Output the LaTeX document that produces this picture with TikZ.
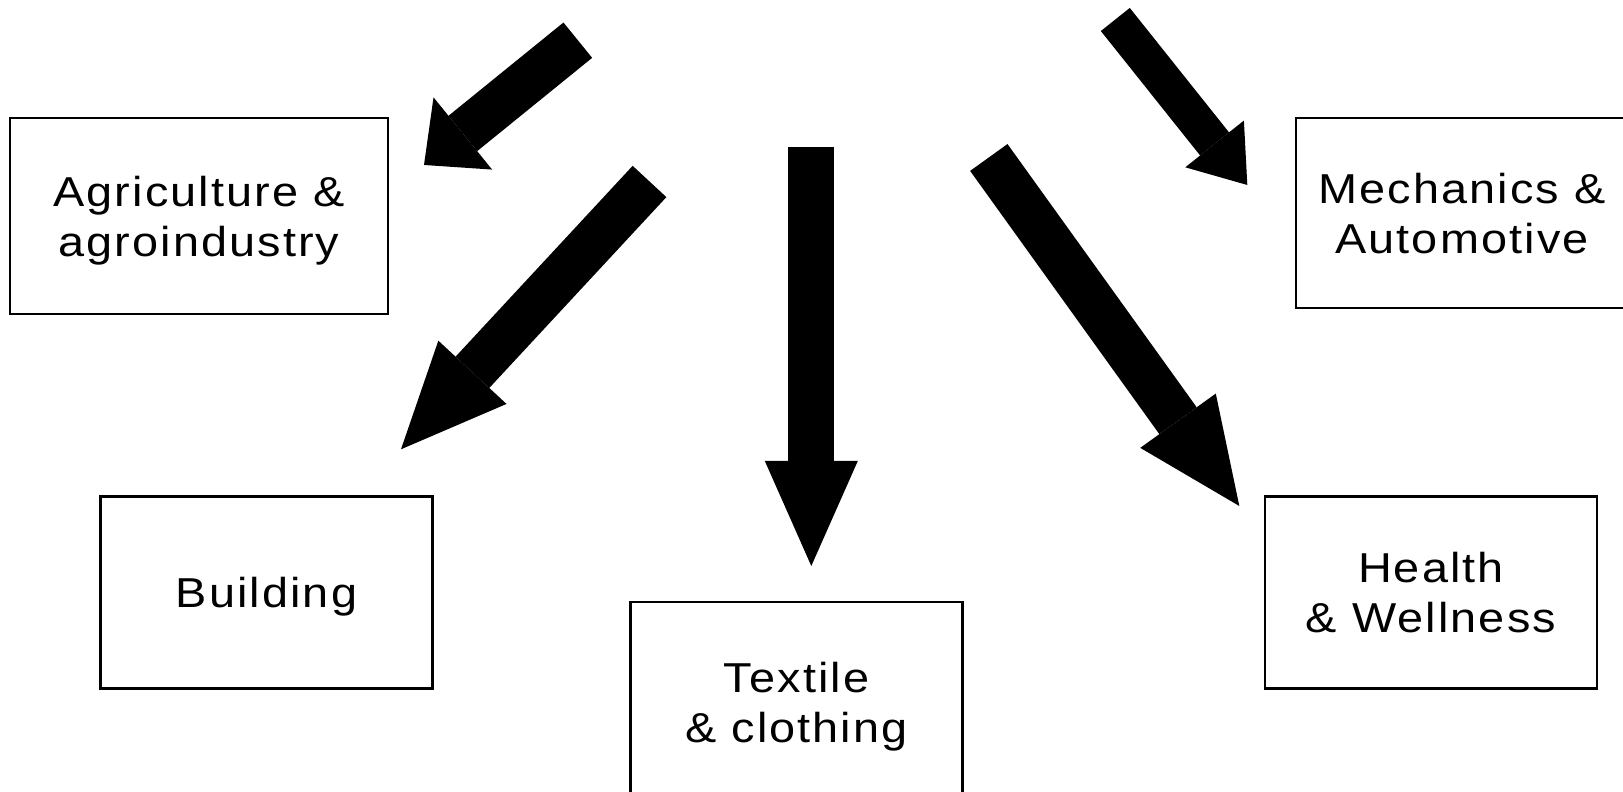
\documentclass[tikz,border=0pt]{standalone}
\usepackage{fontspec}
\newfontfamily\sectorfont[FakeStretch=1.12, LetterSpace=5]{Liberation Sans}
\usetikzlibrary{arrows.meta}

\begin{document}
\begin{tikzpicture}[
  sector/.style={rectangle, draw, line width=0.6pt, minimum width=3.32cm,
                 minimum height=1.92cm, inner sep=0pt, align=center, text depth=0pt,
                 font=\sectorfont\fontsize{11.9}{14.2}\selectfont},
  fat/.style={line width=0.46cm,
              -{Triangle[length=1.05cm, width=0.93cm, line width=0pt]}},
  blunt/.style n args={3}{line width=#1,
              -{Triangle[length=#2, width=#3, line width=0pt]}}
]
  \useasboundingbox (0,0) rectangle (16.23,7.92);
  \clip (0,0) rectangle (16.23,7.92);

  %--- Sectors ---
  \node[sector, minimum width=3.78cm, minimum height=1.96cm] (agri) at (1.99,5.76)
       {Agriculture \&\\agroindustry};
  \node[sector] (build) at (2.665,1.995) {Building};
  \node[sector, minimum height=2cm] (textile) at (7.965,0.90) {Textile\\\& clothing};
  \node[sector] (health) at (14.31,1.995) {Health\\\& Wellness};
  \node[sector, minimum height=1.9cm] (mech) at (14.62,5.79) {Mechanics \&\\Automotive};

  %--- Arrow ends ---
  \coordinate (agri-s) at (5.778,7.518);
  \coordinate (agri-e) at (4.24,6.27);
  \coordinate (build-s) at (6.495,6.105);
  \coordinate (build-e) at (4.01,3.427);
  \coordinate (textile-s) at (8.113,6.45);
  \coordinate (textile-e) at (8.113,2.26);
  \coordinate (health-s) at (9.888,6.345);
  \coordinate (health-e) at (12.393,2.86);
  \coordinate (mech-s) at (11.153,7.725);
  \coordinate (mech-e) at (12.473,6.07);

  %--- Arrows ---
  \foreach \i in {build,textile,health}{
    \draw[fat] (\i-s) -- (\i-e);
  }
  \draw[blunt={0.455cm}{0.5cm}{0.93cm}] (agri-s) -- (agri-e);
  \draw[blunt={0.37cm}{0.525cm}{0.75cm}] (mech-s) -- (mech-e);

\end{tikzpicture}
\end{document}
